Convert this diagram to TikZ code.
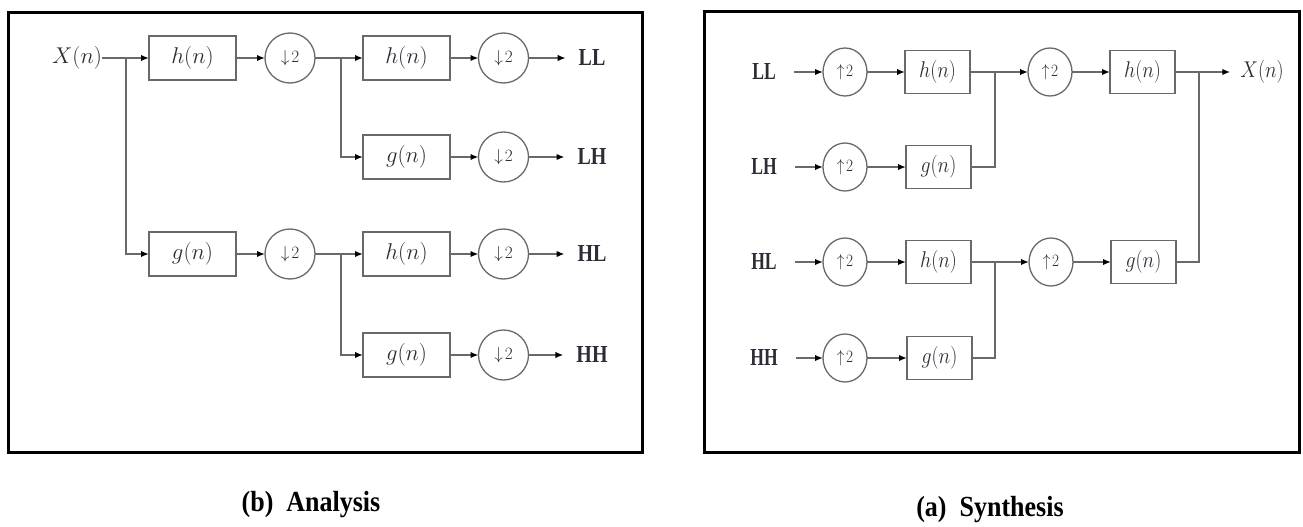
\documentclass[tikz,border=0pt]{standalone}
\usepackage{fontspec}
\setmainfont{Liberation Serif}
\usepackage{graphicx}
\usetikzlibrary{arrows.meta,shapes.geometric}
\definecolor{linegray}{RGB}{105,105,105}
\definecolor{txtgray}{RGB}{45,45,55}
\newcommand{\lbl}[1]{\scalebox{1}[1.22]{\bfseries #1}}
\newcommand{\sq}[1]{\scalebox{0.88}[1]{#1}}
\newcommand{\mth}[1]{\scalebox{1.1}{$#1$}}
\newcommand{\mthr}[1]{\scalebox{0.96}[1.1]{$#1$}}
\newcommand{\capt}[1]{\scalebox{1}[1.12]{#1}}
\begin{document}
\begin{tikzpicture}[x=1pt,y=-1pt,
  conn/.style={draw=linegray,line width=1.6pt},
  arr/.style={conn,-{Latex[length=8pt,width=6.5pt]},arrows={[color=black]}},
  filt/.style={draw=linegray,line width=1.6pt,minimum width=87pt,minimum height=44pt,inner sep=0pt,outer sep=0pt,text=txtgray,font=\fontsize{21}{24}\selectfont},
  samp/.style={circle,draw=linegray,line width=1.3pt,minimum size=50pt,inner sep=0pt,outer sep=0pt,text=txtgray,font=\fontsize{16}{18}\selectfont},
  filtr/.style={filt,minimum width=65pt,minimum height=43pt},
  sampr/.style={ellipse,draw=linegray,line width=1.3pt,minimum width=44pt,minimum height=48pt,inner sep=0pt,outer sep=0pt,text=txtgray,font=\fontsize{16}{18}\selectfont},
  lab/.style={inner sep=0pt,outer sep=0pt,text=txtgray,font=\fontsize{20}{22}\selectfont},
  mlab/.style={inner sep=0pt,outer sep=0pt,text=txtgray,font=\fontsize{21}{24}\selectfont},
  frame/.style={draw=black,line width=3pt},
  captext/.style={inner sep=0pt,font=\fontsize{26}{30}\selectfont\bfseries}]
\useasboundingbox (0,0) rectangle (1303,527);
\fill[white] (0,0) rectangle (1303,527);
% frames
\draw[frame] (8,13) rectangle (642,452);
\draw[frame] (704,12) rectangle (1299,452);
% ===== Analysis =====
\node[mlab] (xin) at (77,58) {\mth{X(n)}};
\node[filt] (h1) at (192.5,58) {\mth{h(n)}};
\node[filt] (g1) at (192.5,254) {\mth{g(n)}};
\node[samp] (d1) at (290,58) {$\downarrow\!2$};
\node[samp] (d3) at (290,254) {$\downarrow\!2$};
\node[filt] (h2) at (406.5,58) {\mth{h(n)}};
\node[filt] (g2) at (406.5,157) {\mth{g(n)}};
\node[filt] (h3) at (406.5,254) {\mth{h(n)}};
\node[filt] (g3) at (406.5,355) {\mth{g(n)}};
\node[samp] (d2a) at (503.5,58) {$\downarrow\!2$};
\node[samp] (d2b) at (503.5,157) {$\downarrow\!2$};
\node[samp] (d2c) at (503.5,254) {$\downarrow\!2$};
\node[samp] (d2d) at (503.5,355) {$\downarrow\!2$};
\node[lab] (oLL) at (592,58) {\lbl{LL}};
\node[lab] (oLH) at (592,157) {\lbl{LH}};
\node[lab] (oHL) at (592,254) {\lbl{HL}};
\node[lab] (oHH) at (592,355) {\lbl{HH}};
\coordinate (s0) at (126,58);
\coordinate (s1) at (341,58);
\coordinate (s2) at (341,254);
\draw[arr] (xin.east) -- (h1.west);
\draw[arr] (s0) |- (g1.west);
\draw[arr] (h1) -- (d1);
\draw[arr] (g1) -- (d3);
\draw[conn] (d1.east) -- (s1);
\draw[arr] (s1) -- (h2.west);
\draw[arr] (s1) |- (g2.west);
\draw[conn] (d3.east) -- (s2);
\draw[arr] (s2) -- (h3.west);
\draw[arr] (s2) |- (g3.west);
\draw[arr] (h2) -- (d2a);
\draw[arr] (g2) -- (d2b);
\draw[arr] (h3) -- (d2c);
\draw[arr] (g3) -- (d2d);
\draw[arr,shorten >=13pt] (d2a.east) -- (oLL.west);
\draw[arr,shorten >=13pt] (d2b.east) -- (oLH.west);
\draw[arr,shorten >=13pt] (d2c.east) -- (oHL.west);
\draw[arr,shorten >=13pt] (d2d.east) -- (oHH.west);
\node[captext] (capb) at (311,505) {\capt{(b)\ \ Analysis}};
% ===== Synthesis =====
\node[lab] (iLL) at (764,72) {\sq{\lbl{LL}}};
\node[lab] (iLH) at (764,167) {\sq{\lbl{LH}}};
\node[lab] (iHL) at (764,262) {\sq{\lbl{HL}}};
\node[lab] (iHH) at (764,358) {\sq{\lbl{HH}}};
\node[sampr] (u1) at (845,72) {\sq{$\uparrow\!2$}};
\node[sampr] (u2) at (845,167) {\sq{$\uparrow\!2$}};
\node[sampr] (u3) at (845,262) {\sq{$\uparrow\!2$}};
\node[sampr] (u4) at (845,358) {\sq{$\uparrow\!2$}};
\node[filtr] (rh1) at (937.5,72) {\mthr{h(n)}};
\node[filtr] (rg2) at (938.5,167) {\mthr{g(n)}};
\node[filtr] (rh3) at (938.5,262) {\mthr{h(n)}};
\node[filtr] (rg4) at (939.5,358) {\mthr{g(n)}};
\node[sampr] (u5) at (1050,72) {\sq{$\uparrow\!2$}};
\node[sampr] (u6) at (1051,262) {\sq{$\uparrow\!2$}};
\node[filtr] (rh5) at (1142.5,72) {\mthr{h(n)}};
\node[filtr] (rg6) at (1143.5,262) {\mthr{g(n)}};
\node[mlab] (xout) at (1262,72) {\mthr{X(n)}};
\coordinate (j1) at (995,72);
\coordinate (j2) at (995,262);
\coordinate (j3) at (1199,72);
\draw[arr,shorten <=18pt] (iLL.east) -- (u1.west);
\draw[arr,shorten <=18pt] (iLH.east) -- (u2.west);
\draw[arr,shorten <=18pt] (iHL.east) -- (u3.west);
\draw[arr,shorten <=18pt] (iHH.east) -- (u4.west);
\draw[arr] (u1) -- (rh1);
\draw[arr] (u2) -- (rg2);
\draw[arr] (u3) -- (rh3);
\draw[arr] (u4) -- (rg4);
\draw[conn] (rh1.east) -- (j1);
\draw[conn] (rg2.east) -| (j1);
\draw[arr] (j1) -- (u5.west);
\draw[conn] (rh3.east) -- (j2);
\draw[conn] (rg4.east) -| (j2);
\draw[arr] (j2) -- (u6.west);
\draw[arr] (u5) -- (rh5);
\draw[arr] (u6) -- (rg6);
\draw[conn] (rh5.east) -- (j3);
\draw[conn] (rg6.east) -| (j3);
\draw[arr,shorten >=10pt] (j3) -- (xout.west);
\node[captext] (capa) at (990,510) {\capt{(a)\ \ Synthesis}};
\end{tikzpicture}
\end{document}
